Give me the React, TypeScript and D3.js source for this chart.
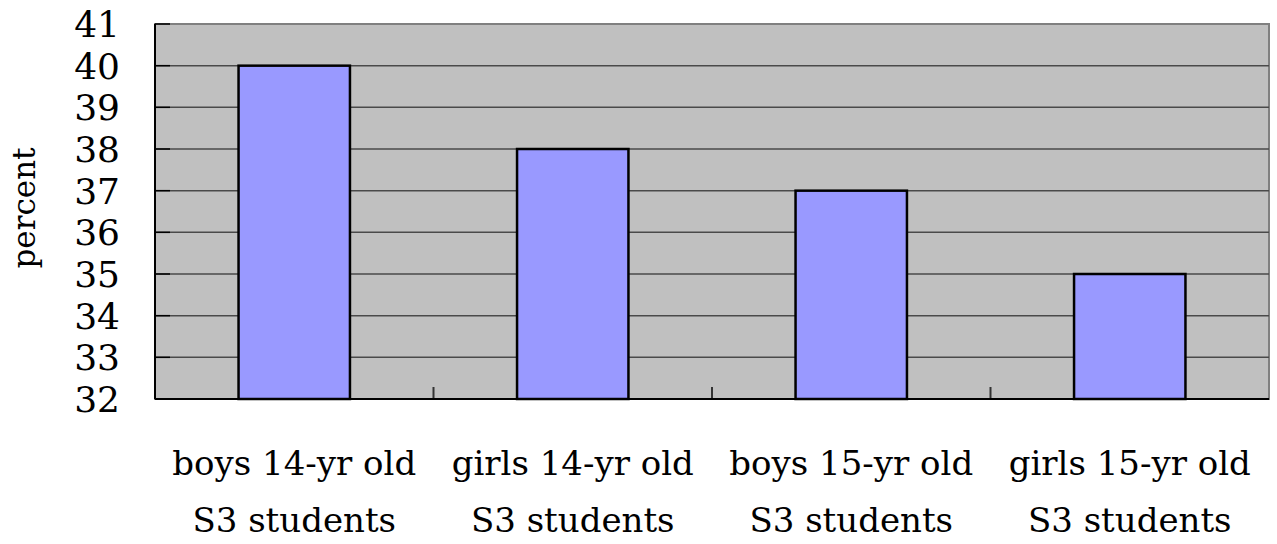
import React from "react";
import * as d3 from "d3";

const categories = [
  ["boys 14-yr old", "S3 students"],
  ["girls 14-yr old", "S3 students"],
  ["boys 15-yr old", "S3 students"],
  ["girls 15-yr old", "S3 students"],
];
const values = [40, 38, 37, 35];
const yTicks = [32, 33, 34, 35, 36, 37, 38, 39, 40, 41];
const yLabel = "percent";

export default function App() {
  const W = 1277, H = 544;
  const left = 155, right = 1269, top = 24, bottom = 399;
  const font = '"DejaVu Serif", serif';

  const x = d3.scaleBand<number>().domain(d3.range(values.length)).range([left, right]).paddingInner(0).paddingOuter(0);
  const y = d3.scaleLinear().domain([32, 41]).range([bottom, top]);
  const bw = x.bandwidth() * 0.4;

  return (
    <svg width={W} height={H} style={{ position: "absolute", left: 0, top: 0, background: "#fff" }}>
      <rect x={left} y={top} width={right - left} height={bottom - top} fill="#C0C0C0" stroke="#808080" strokeWidth={2} />
      {yTicks.filter(t => t > 32 && t < 41).map(t => (
        <line key={"g" + t} x1={left} x2={right} y1={y(t)} y2={y(t)} stroke="#4a4a4a" strokeWidth={1.5} />
      ))}
      {values.map((v, i) => {
        const cx = x(i)! + x.bandwidth() / 2;
        return (
          <rect key={"b" + i} x={cx - bw / 2} y={y(v)} width={bw} height={bottom - y(v)} fill="#9999FF" stroke="#000" strokeWidth={2.5} />
        );
      })}
      {yTicks.map(t => (
        <line key={"t" + t} x1={left} x2={left + 15} y1={y(t)} y2={y(t)} stroke="#000" strokeWidth={1.5} />
      ))}
      {d3.range(1, values.length).map(i => (
        <line key={"xt" + i} x1={x(i)!} x2={x(i)!} y1={bottom} y2={bottom - 12} stroke="#333" strokeWidth={2} />
      ))}
      <line x1={left} x2={left} y1={top} y2={bottom} stroke="#000" strokeWidth={2} />
      <line x1={left} x2={right} y1={bottom} y2={bottom} stroke="#000" strokeWidth={2} />
      {yTicks.map(t => (
        <text key={"l" + t} x={120} y={y(t)} dy="0.36em" textAnchor="end" style={{ fontFamily: font, fontSize: 36 }} fill="#000">{t}</text>
      ))}
      {categories.map((c, i) => {
        const cx = x(i)! + x.bandwidth() / 2;
        return (
          <text key={"c" + i} textAnchor="middle" style={{ fontFamily: font, fontSize: 34 }} fill="#000">
            <tspan x={cx} y={475}>{c[0]}</tspan>
            <tspan x={cx} y={532}>{c[1]}</tspan>
          </text>
        );
      })}
      <text transform={`translate(35, 208) rotate(-90)`} textAnchor="middle" style={{ fontFamily: font, fontSize: 31 }} fill="#000">{yLabel}</text>
    </svg>
  );
}
